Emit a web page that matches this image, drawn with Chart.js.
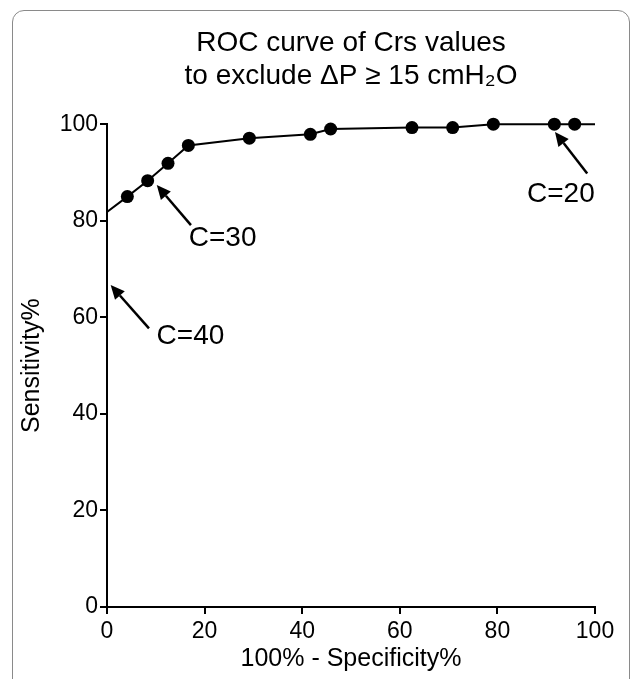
<!DOCTYPE html>
<html>
<head>
<meta charset="utf-8">
<script src="https://cdn.jsdelivr.net/npm/chart.js@4.4.0/dist/chart.umd.min.js"></script>
<style>
  html, body { margin: 0; padding: 0; background: #fff; }
  body { width: 637px; height: 679px; position: relative; overflow: hidden; }
  .frame {
    position: absolute; left: 12px; top: 10px; width: 618px; height: 720px;
    border: 1.5px solid #8a8a8a; border-radius: 12px; box-sizing: border-box;
  }
  .wrap { position: absolute; left: 0; top: 0; width: 637px; height: 679px; }
</style>
</head>
<body>
<div class="frame"></div>
<div class="wrap"><canvas id="roc"></canvas></div>
<script>
const FONT = '"Liberation Sans", Arial, Helvetica, sans-serif';

// ROC points (100% - specificity, sensitivity)
const fpr = [0, 0, 4.17, 8.33, 12.5, 16.67, 29.17, 41.67, 45.83, 62.5, 70.83, 79.17, 91.67, 95.83, 100];
const sensitivity = [0, 81.8, 85.0, 88.3, 91.9, 95.6, 97.1, 97.9, 99.0, 99.3, 99.3, 100, 100, 100, 100];
const showDot = [false, false, true, true, true, true, true, true, true, true, true, true, true, true, false];

const xTicks = [0, 20, 40, 60, 80, 100];
const yTicks = [0, 20, 40, 60, 80, 100];

// cut-off labels: arrow tip, arrow tail, text centre (data units)
const cutLabels = ['C=40', 'C=30', 'C=20'];
const arrowTips = [[0.75, 66.7], [10.2, 87.4], [91.8, 98.4]];
const arrowTails = [[8.6, 57.7], [17.2, 79.1], [98.4, 89.8]];
const labelAt = [[17.1, 56.0], [23.7, 76.4], [93.0, 85.5]];

const arrowPlugin = {
  id: 'cutArrows',
  afterDatasetsDraw(chart) {
    const { ctx, scales: { x, y } } = chart;
    ctx.save();
    ctx.strokeStyle = '#000';
    ctx.fillStyle = '#000';
    ctx.lineWidth = 2.5;
    cutLabels.forEach((label, i) => {
      const tx = x.getPixelForValue(arrowTips[i][0]);
      const ty = y.getPixelForValue(arrowTips[i][1]);
      const sx = x.getPixelForValue(arrowTails[i][0]);
      const sy = y.getPixelForValue(arrowTails[i][1]);
      const ang = Math.atan2(ty - sy, tx - sx);
      const headLen = 14;
      const headW = 6.5;
      const bx = tx - headLen * Math.cos(ang);
      const by = ty - headLen * Math.sin(ang);
      ctx.beginPath();
      ctx.moveTo(sx, sy);
      ctx.lineTo(bx, by);
      ctx.stroke();
      ctx.beginPath();
      ctx.moveTo(tx, ty);
      ctx.lineTo(bx + headW * Math.sin(ang), by - headW * Math.cos(ang));
      ctx.lineTo(bx - headW * Math.sin(ang), by + headW * Math.cos(ang));
      ctx.closePath();
      ctx.fill();

      ctx.font = `28px ${FONT}`;
      ctx.textAlign = 'center';
      ctx.textBaseline = 'middle';
      ctx.fillText(label, x.getPixelForValue(labelAt[i][0]), y.getPixelForValue(labelAt[i][1]));
    });
    ctx.restore();
  },
};

new Chart(document.getElementById('roc'), {
  type: 'scatter',
  data: {
    datasets: [{
      data: fpr.map((v, i) => ({ x: v, y: sensitivity[i] })),
      showLine: true,
      borderColor: '#000',
      borderWidth: 2,
      backgroundColor: '#000',
      pointRadius: showDot.map((d) => (d ? 6.5 : 0)),
      pointHoverRadius: showDot.map((d) => (d ? 6.5 : 0)),
      pointBorderWidth: 0,
      tension: 0,
      clip: false,
    }],
  },
  options: {
    responsive: true,
    maintainAspectRatio: false,
    animation: false,
    events: [],
    layout: { padding: { left: 14, right: 42, top: 0, bottom: 0 } },
    plugins: {
      legend: { display: false },
      tooltip: { enabled: false },
      title: {
        display: true,
        fullSize: false,
        text: ['ROC curve of Crs values', 'to exclude ΔP ≥ 15 cmH₂O'],
        color: '#000',
        font: { family: FONT, size: 28, weight: 'normal', lineHeight: 1.2 },
        padding: { top: 26, bottom: 31 },
      },
    },
    scales: {
      x: {
        type: 'linear',
        min: 0,
        max: 100,
        afterFit: (scale) => { scale.height = 72; },
        afterBuildTicks: (scale) => { scale.ticks = xTicks.map((v) => ({ value: v })); },
        border: { display: true, color: '#000', width: 2 },
        grid: { drawOnChartArea: false, drawTicks: true, tickLength: 7, color: '#000', lineWidth: 2 },
        ticks: { color: '#000', padding: 4, font: { family: FONT, size: 23 } },
        title: {
          display: true,
          text: '100% - Specificity%',
          color: '#000',
          font: { family: FONT, size: 25 },
          padding: { top: 4, bottom: 5 },
        },
      },
      y: {
        type: 'linear',
        min: 0,
        max: 100,
        afterFit: (scale) => { scale.width = 93; },
        afterBuildTicks: (scale) => { scale.ticks = yTicks.map((v) => ({ value: v })); },
        border: { display: true, color: '#000', width: 2 },
        grid: { drawOnChartArea: false, drawTicks: true, tickLength: 7, color: '#000', lineWidth: 2 },
        ticks: { color: '#000', padding: 2, font: { family: FONT, size: 23 } },
        title: {
          display: true,
          text: 'Sensitivity%',
          color: '#000',
          font: { family: FONT, size: 25 },
          padding: { top: 3, bottom: 0 },
        },
      },
    },
  },
  plugins: [arrowPlugin],
});
</script>
</body>
</html>
